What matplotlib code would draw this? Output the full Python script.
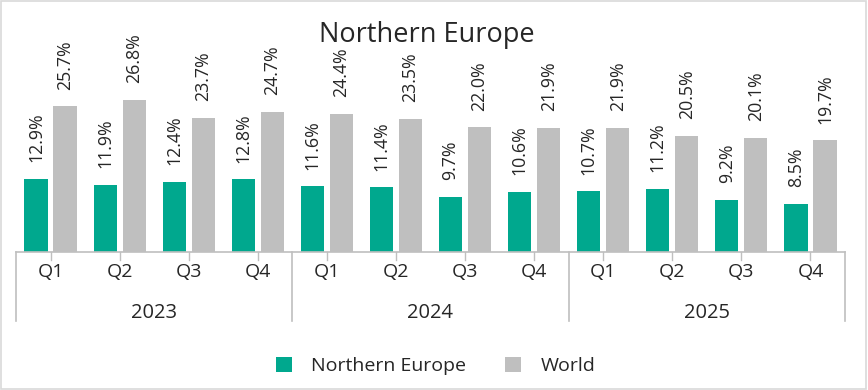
import matplotlib
matplotlib.use("Agg")
import matplotlib.pyplot as plt
from matplotlib.patches import Rectangle
from matplotlib.lines import Line2D

plt.rcParams['font.family'] = ['Open Sans', 'DejaVu Sans']

years = ["2023", "2024", "2025"]
quarters = ["Q1", "Q2", "Q3", "Q4"]
northern_europe = [12.9, 11.9, 12.4, 12.8, 11.6, 11.4, 9.7, 10.6, 10.7, 11.2, 9.2, 8.5]
world = [25.7, 26.8, 23.7, 24.7, 24.4, 23.5, 22.0, 21.9, 21.9, 20.5, 20.1, 19.7]
ne_labels = ["12.9%", "11.9%", "12.4%", "12.8%", "11.6%", "11.4%", "9.7%", "10.6%",
             "10.7%", "11.2%", "9.2%", "8.5%"]
world_labels = ["25.7%", "26.8%", "23.7%", "24.7%", "24.4%", "23.5%", "22.0%", "21.9%",
                "21.9%", "20.5%", "20.1%", "19.7%"]

GREEN = "#00A88E"
GRAY = "#BFBFBF"
TXT = "#262626"
LINE = "#BFBFBF"

W, H = 868, 390
fig = plt.figure(figsize=(W / 100, H / 100), dpi=100)
ax = fig.add_axes([16 / W, 1 - 252 / H, (845 - 16) / W, (252 - 40) / H])
ax.set_xlim(-0.5, 11.5)
ax.set_ylim(0, 37.4)
ax.axis("off")

n = len(northern_europe)
xs = list(range(n))
bw = 0.335
off = 0.21
ax.bar([x - off for x in xs], northern_europe, width=bw, color=GREEN, label="Northern Europe")
ax.bar([x + off for x in xs], world, width=bw, color=GRAY, label="World")

for x, v, s in zip(xs, northern_europe, ne_labels):
    ax.annotate(s, (x - off, v), xytext=(0, 12), textcoords="offset points",
                rotation=90, ha="center", va="bottom", fontsize=12.8, color=TXT)
for x, v, s in zip(xs, world, world_labels):
    ax.annotate(s, (x + off, v), xytext=(0, 12), textcoords="offset points",
                rotation=90, ha="center", va="bottom", fontsize=12.8, color=TXT)

def fx(xd):
    return ax.transData.transform((xd, 0))[0]

fig.canvas.draw()
y0 = 252
fig.add_artist(Line2D([fx(-0.5) / W, fx(11.5) / W], [1 - y0 / H, 1 - y0 / H],
                      color=LINE, lw=1.2, transform=fig.transFigure))
for x in xs:
    xp = fx(x) / W
    fig.add_artist(Line2D([xp, xp], [1 - y0 / H, 1 - 260 / H], color=LINE, lw=1.0,
                          transform=fig.transFigure))
for b in [-0.5, 3.5, 7.5, 11.5]:
    xp = fx(b) / W
    fig.add_artist(Line2D([xp, xp], [1 - y0 / H, 1 - 321 / H], color=LINE, lw=1.2,
                          transform=fig.transFigure))

for i, x in enumerate(xs):
    fig.text(fx(x) / W, 1 - 272 / H, quarters[i % 4], ha="center", va="center",
             fontsize=14, color=TXT)
for j, yr in enumerate(years):
    fig.text(fx(4 * j + 1.5) / W, 1 - 313 / H, yr, ha="center", va="center",
             fontsize=14.5, color=TXT)

fig.text(0.492, 1 - 35 / H, "Northern Europe", ha="center", va="center",
         fontsize=19.5, color=TXT)

leg = fig.legend(loc="center", bbox_to_anchor=(0.502, 1 - 366 / H), ncol=2,
                 frameon=False, fontsize=14, handlelength=0.8, handleheight=0.8,
                 columnspacing=2.0, handletextpad=1.0, labelcolor=TXT)

fig.add_artist(Rectangle((0.001, 0.002), 0.997, 0.995, transform=fig.transFigure,
                         fill=False, edgecolor="#D9D9D9", lw=1.2))

fig.savefig("out.png", dpi=100)
